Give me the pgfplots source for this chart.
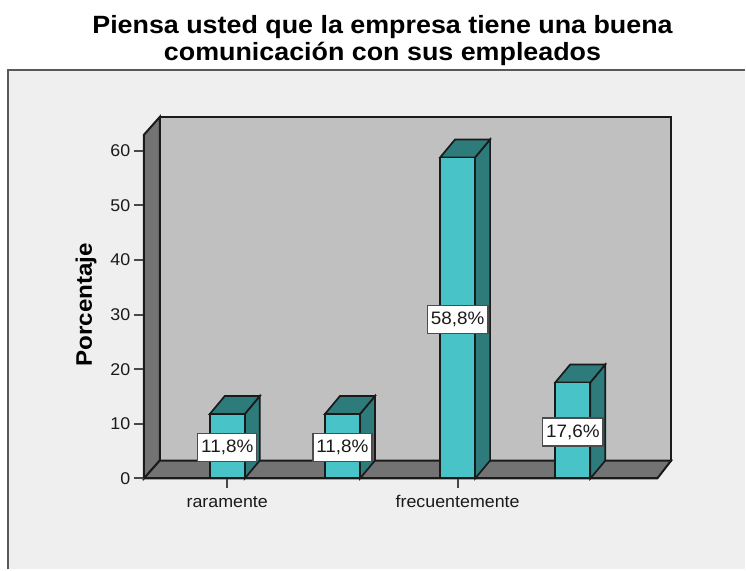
\documentclass[border=0pt]{standalone}
\usepackage{fontspec}
\setmainfont{Liberation Sans}
\newfontfamily\wideA[FakeStretch=1.05]{Liberation Sans}
\newfontfamily\wideB[FakeStretch=1.075]{Liberation Sans}
\usepackage{pgfplots}
\pgfplotsset{compat=1.18}
\definecolor{panel}{HTML}{EFEFEF}
\definecolor{wall}{HTML}{C0C0C0}
\definecolor{floorc}{HTML}{737373}
\definecolor{barf}{HTML}{48C4C8}
\definecolor{bard}{HTML}{2E7B7B}
\definecolor{ink}{HTML}{1A1A1A}
\begin{document}
\begin{tikzpicture}
\begin{axis}[
  scale only axis, width=514pt, height=344pt,
  xmin=-0.724, xmax=3.733, ymin=0, ymax=62.92,
  clip=false, axis on top,
  axis x line=bottom, axis y line=left,
  axis line style={-, line width=2pt, color=ink},
  xtick={0,2}, xticklabels={raramente,frecuentemente},
  ytick={0,10,20,30,40,50,60},
  tick align=outside, major tick length=10pt,
  tick style={line width=2pt, color=ink!80!white},
  /pgf/number format/assume math mode=true,
  ticklabel style={font=\wideA\fontsize{17}{18}\selectfont, text=ink},
  xticklabel style={yshift=-4pt, text height=12pt, text depth=0pt},
  ylabel={Porcentaje},
  every axis y label/.style={at={(axis cs:-1.225,31.8)}, rotate=90, anchor=center,
    font=\wideB\fontsize{22.5}{24}\selectfont\bfseries, text=black},
  title={Piensa usted que la empresa tiene una buena\\comunicación con sus empleados},
  every axis title/.style={at={(axis cs:1.348,80.2)}, anchor=center, align=center,
    font=\wideB\fontsize{25}{27}\selectfont\bfseries, text=black},
]
% page and panel
\addplot[fill=white, draw=none] coordinates {(-1.9727,-16.645) (4.4956,-16.645) (4.4956,87.62) (-1.9727,87.62)} -- cycle;
\addplot[fill=panel, draw=none] coordinates {(-1.903,-16.645) (4.4956,-16.645) (4.4956,74.8) (-1.903,74.8)} -- cycle;
\addplot[draw=black!65, line width=1.8pt] coordinates {(-1.903,-16.645) (-1.903,74.8) (4.4956,74.8)};
% walls and floor
\addplot[fill=wall, draw=ink, line width=2pt] coordinates {(-0.5853,3.292) (3.854,3.292) (3.854,66.21) (-0.5853,66.21)} -- cycle;
\addplot[fill=floorc, draw=ink, line width=2pt] coordinates {(-0.724,0) (-0.5853,3.292) (-0.5853,66.21) (-0.724,62.92)} -- cycle;
\addplot[fill=floorc, draw=ink, line width=2pt] coordinates {(-0.724,0) (3.733,0) (3.854,3.292) (-0.5853,3.292)} -- cycle;
% bar sides
\addplot[fill=bard, draw=ink, line width=1.7pt] coordinates {(0.152,0) (0.152,11.8) (0.282,15.09) (0.282,3.29)} -- cycle;
\addplot[fill=bard, draw=ink, line width=1.7pt] coordinates {(1.152,0) (1.152,11.8) (1.282,15.09) (1.282,3.29)} -- cycle;
\addplot[fill=bard, draw=ink, line width=1.7pt] coordinates {(2.152,0) (2.152,58.8) (2.282,62.09) (2.282,3.29)} -- cycle;
\addplot[fill=bard, draw=ink, line width=1.7pt] coordinates {(3.152,0) (3.152,17.6) (3.282,20.89) (3.282,3.29)} -- cycle;
% bar tops
\addplot[fill=bard, draw=ink, line width=1.7pt] coordinates {(-0.152,11.8) (0.152,11.8) (0.282,15.09) (-0.022,15.09)} -- cycle;
\addplot[fill=bard, draw=ink, line width=1.7pt] coordinates {(0.848,11.8) (1.152,11.8) (1.282,15.09) (0.978,15.09)} -- cycle;
\addplot[fill=bard, draw=ink, line width=1.7pt] coordinates {(1.848,58.8) (2.152,58.8) (2.282,62.09) (1.978,62.09)} -- cycle;
\addplot[fill=bard, draw=ink, line width=1.7pt] coordinates {(2.848,17.6) (3.152,17.6) (3.282,20.89) (2.978,20.89)} -- cycle;
% bar fronts
\addplot[ybar, bar width=35pt, fill=barf, draw=ink, line width=1.7pt] coordinates {(0,11.8) (1,11.8) (2,58.8) (3,17.6)};
% value labels
\addplot[only marks, mark=none, point meta=explicit symbolic,
  nodes near coords,
  every node near coord/.style={anchor=center, yshift=-1.5pt, fill=white, draw=black!70, line width=1.3pt,
    font=\wideA\fontsize{18}{18}\selectfont, text=ink, inner xsep=3.5pt, inner ysep=2pt, minimum height=28pt}]
  coordinates {(0,5.9)[11,8\%] (1,5.9)[11,8\%] (2,29.4)[58,8\%] (3,8.8)[17,6\%]};
\end{axis}
\end{tikzpicture}
\end{document}
